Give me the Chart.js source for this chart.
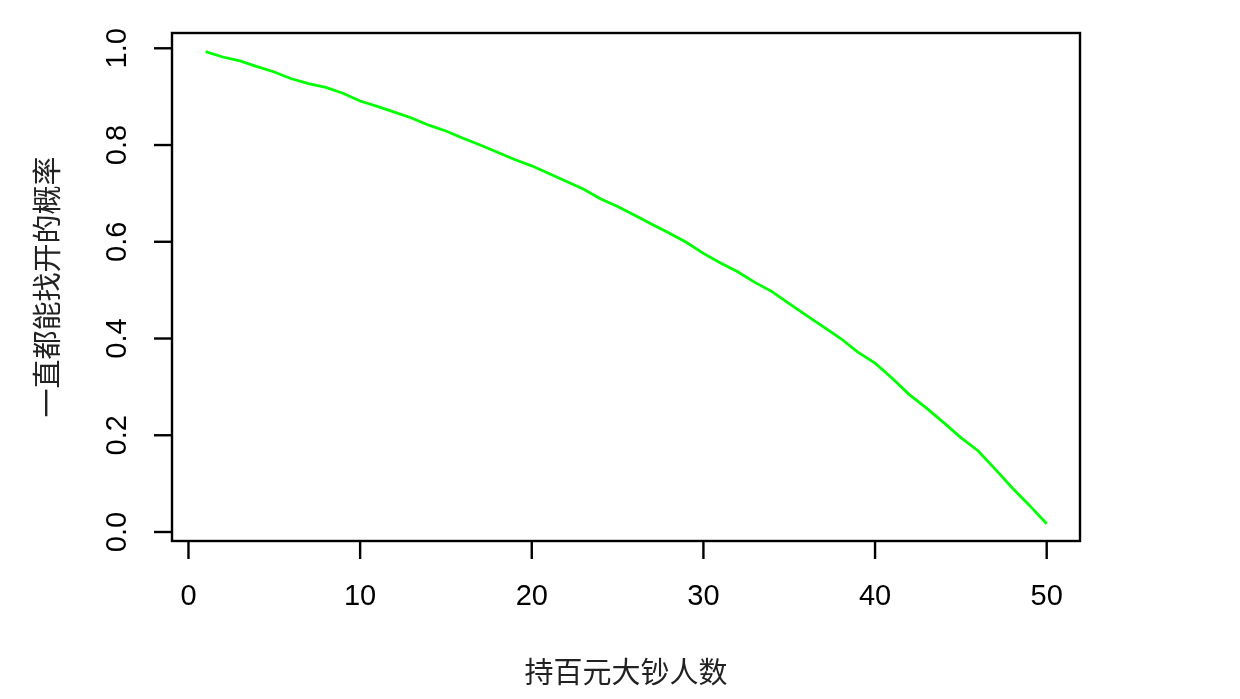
<!DOCTYPE html>
<html>
<head>
<meta charset="utf-8">
<script src="https://cdn.jsdelivr.net/npm/chart.js@4.4.1/dist/chart.umd.min.js"></script>
<style>
    html, body { margin: 0; padding: 0; background: #fff; }
    #chart { display: block; }
</style>
</head>
<body>
<canvas id="chart" width="1240" height="699"></canvas>
<script>
// number of people holding 100-yuan notes
const people = [];
for (let i = 1; i <= 50; i++) people.push(i);

// probability that change can always be given
const probability = [
    0.993, 0.982, 0.974, 0.962, 0.951, 0.937, 0.927, 0.919, 0.907, 0.891,
    0.880, 0.868, 0.856, 0.841, 0.829, 0.814, 0.800, 0.785, 0.770, 0.757,
    0.741, 0.725, 0.709, 0.689, 0.673, 0.655, 0.636, 0.618, 0.599, 0.576,
    0.556, 0.538, 0.516, 0.497, 0.472, 0.448, 0.424, 0.400, 0.372, 0.349,
    0.318, 0.284, 0.256, 0.226, 0.195, 0.168, 0.130, 0.091, 0.055, 0.017
];

const xTicks = [0, 10, 20, 30, 40, 50];
const yTicks = [0.0, 0.2, 0.4, 0.6, 0.8, 1.0];
const xTitle = '持百元大钞人数';
const yTitle = '一直都能找开的概率';

// draws the R-style box, ticks and labels from the chart's own scales
const baseAxes = {
    id: 'baseAxes',
    afterDraw(chart) {
        const ctx = chart.ctx;
        const area = chart.chartArea;
        const xs = chart.scales.x;
        const ys = chart.scales.y;
        const tickLen = 18;

        ctx.save();
        ctx.strokeStyle = '#000';
        ctx.lineWidth = 2.4;
        ctx.strokeRect(area.left, area.top, area.right - area.left, area.bottom - area.top);

        ctx.fillStyle = '#000';
        ctx.font = '29px "Liberation Sans", Arial, sans-serif';

        // x axis
        ctx.textAlign = 'center';
        ctx.textBaseline = 'middle';
        xTicks.forEach(v => {
            const px = xs.getPixelForValue(v);
            ctx.beginPath();
            ctx.moveTo(px, area.bottom);
            ctx.lineTo(px, area.bottom + tickLen);
            ctx.stroke();
            ctx.fillText(String(v), px, area.bottom + 56);
        });

        // y axis, labels turned like R does
        yTicks.forEach(v => {
            const py = ys.getPixelForValue(v);
            ctx.beginPath();
            ctx.moveTo(area.left, py);
            ctx.lineTo(area.left - tickLen, py);
            ctx.stroke();
            ctx.save();
            ctx.translate(area.left - 54, py);
            ctx.rotate(-Math.PI / 2);
            ctx.fillText(v.toFixed(1), 0, 0);
            ctx.restore();
        });

        // titles
        ctx.fillStyle = '#222';
        ctx.font = '29px "Noto Sans CJK SC", sans-serif';
        ctx.fillText(xTitle, (area.left + area.right) / 2, 672);
        ctx.save();
        ctx.translate(47, (area.top + area.bottom) / 2);
        ctx.rotate(-Math.PI / 2);
        ctx.fillText(yTitle, 0, 0);
        ctx.restore();

        ctx.restore();
    }
};

const ctx = document.getElementById('chart').getContext('2d');

new Chart(ctx, {
    type: 'line',
    data: {
        datasets: [{
            data: people.map((p, i) => ({ x: p, y: probability[i] })),
            borderColor: '#00ff00',
            borderWidth: 2.8,
            pointRadius: 0,
            tension: 0,
            fill: false
        }]
    },
    options: {
        responsive: false,
        animation: false,
        devicePixelRatio: 1,
        layout: {
            padding: { left: 172, right: 160, top: 33, bottom: 158 }
        },
        plugins: {
            legend: { display: false },
            tooltip: { enabled: false }
        },
        scales: {
            x: {
                type: 'linear',
                min: -0.96,
                max: 51.94,
                display: false
            },
            y: {
                min: -0.0186,
                max: 1.0316,
                display: false
            }
        }
    },
    plugins: [baseAxes]
});
</script>
</body>
</html>
